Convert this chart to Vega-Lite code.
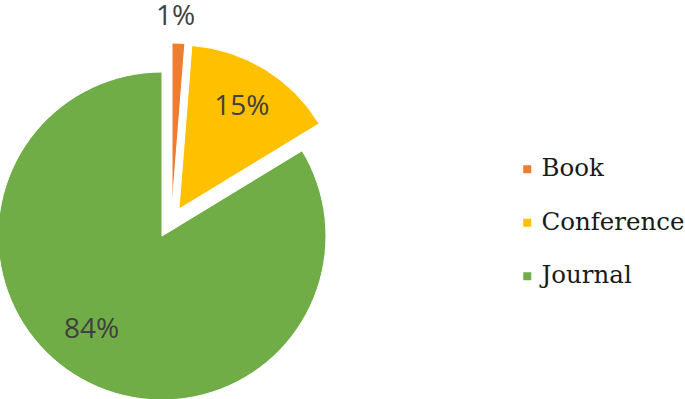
{
  "$schema": "https://vega.github.io/schema/vega-lite/v6.json",
  "width": 324,
  "height": 326,
  "autosize": {"type": "none"},
  "padding": {"left": 0, "top": 73, "right": 361, "bottom": 0},
  "background": "white",
  "view": {"stroke": null},
  "data": {
    "values": [
      {"category": "Book", "value": 1.25, "label": "1%"},
      {"category": "Conference", "value": 15.05, "label": "15%"},
      {"category": "Journal", "value": 83.7, "label": "84%"}
    ]
  },
  "encoding": {
    "theta": {"field": "value", "type": "quantitative", "stack": true, "scale": {"domain": [0, 100]}},
    "order": {"field": "category", "type": "nominal"},
    "color": {
      "field": "category",
      "type": "nominal",
      "scale": {"domain": ["Book", "Conference", "Journal"], "range": ["#ED7D31", "#FFC000", "#70AD47"]},
      "legend": {
        "title": null,
        "orient": "none",
        "legendX": 515,
        "legendY": 84,
        "padding": 0,
        "symbolType": "square",
        "symbolSize": 64,
        "symbolStrokeWidth": 0,
        "labelOffset": 2,
        "labelFont": "DejaVu Serif",
        "labelFontSize": 24.5,
        "labelColor": "#1a1a1a",
        "labelLimit": 300,
        "rowPadding": 28.5
      }
    }
  },
  "layer": [
    {
      "mark": {"type": "arc", "outerRadius": 164, "stroke": "white", "strokeWidth": 1},
      "encoding": {"opacity": {"condition": {"test": "datum.category === 'Journal'", "value": 1}, "value": 0}}
    },
    {
      "mark": {"type": "arc", "outerRadius": 164, "stroke": "white", "strokeWidth": 1, "xOffset": 17, "yOffset": -27},
      "encoding": {"opacity": {"condition": {"test": "datum.category === 'Conference'", "value": 1}, "value": 0}}
    },
    {
      "mark": {"type": "arc", "outerRadius": 164, "stroke": "white", "strokeWidth": 1, "xOffset": 10, "yOffset": -29},
      "encoding": {"opacity": {"condition": {"test": "datum.category === 'Book'", "value": 1}, "value": 0}}
    },
    {
      "mark": {"type": "text", "radius": 117, "xOffset": -13, "yOffset": -8, "font": "Open Sans", "fontSize": 28, "align": "center", "baseline": "middle"},
      "encoding": {
        "text": {"field": "label"},
        "color": {"value": "#404040"},
        "opacity": {"condition": {"test": "datum.category === 'Journal'", "value": 1}, "value": 0}
      }
    },
    {
      "mark": {"type": "text", "radius": 120, "xOffset": 17, "yOffset": -27, "font": "Open Sans", "fontSize": 28, "align": "center", "baseline": "middle"},
      "encoding": {
        "text": {"field": "label"},
        "color": {"value": "#404040"},
        "opacity": {"condition": {"test": "datum.category === 'Conference'", "value": 1}, "value": 0}
      }
    },
    {
      "mark": {"type": "text", "radius": 191, "xOffset": 6, "yOffset": -28, "font": "Open Sans", "fontSize": 28, "align": "center", "baseline": "middle"},
      "encoding": {
        "text": {"field": "label"},
        "color": {"value": "#404040"},
        "opacity": {"condition": {"test": "datum.category === 'Book'", "value": 1}, "value": 0}
      }
    }
  ]
}
